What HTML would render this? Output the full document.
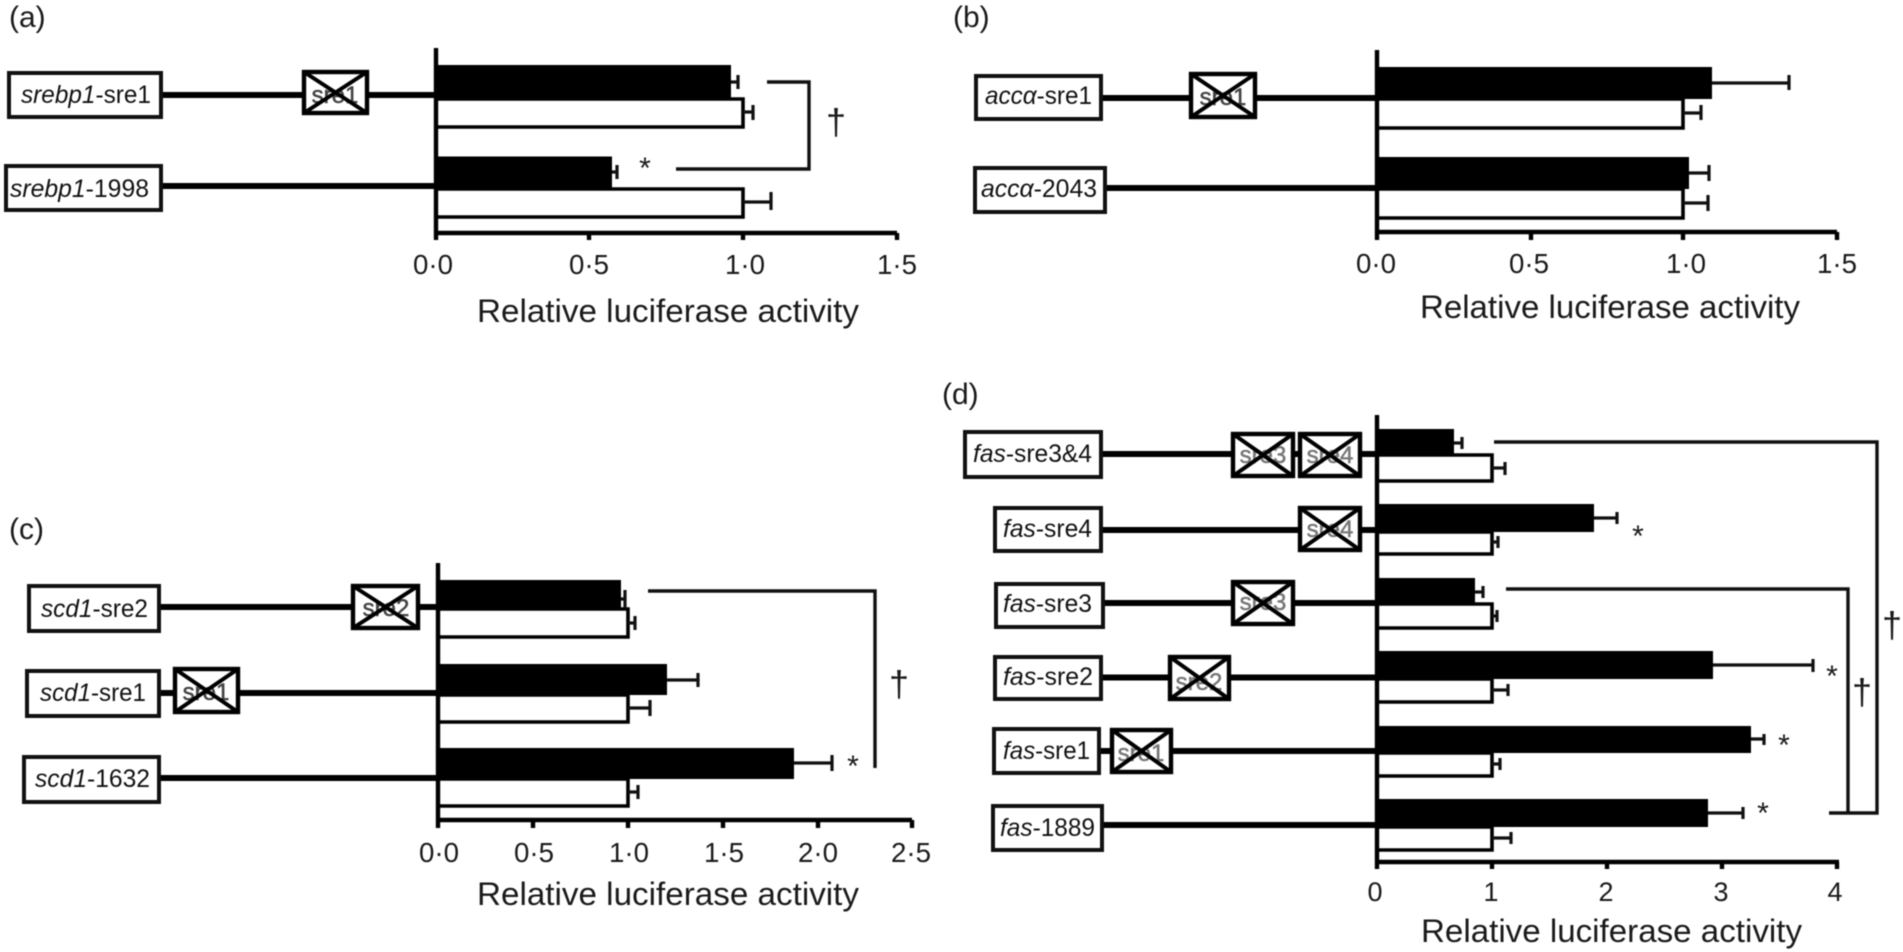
<!DOCTYPE html>
<html><head><meta charset="utf-8"><style>
html,body{margin:0;padding:0;background:#fff;width:1903px;height:952px;overflow:hidden}
svg{display:block;filter:blur(.6px)}
text{font-family:"Liberation Sans",sans-serif;fill:#1a1a1a}
.p{font-size:30px}.t{font-size:28px;text-anchor:middle}.td{font-size:27px;text-anchor:middle}.h{font-size:32px}
.l{font-size:25px;fill:#111}.l tspan{font-style:italic}
.m{font-size:30px;text-anchor:middle}.d{font-size:36px;text-anchor:middle}
.s{font-size:24px;fill:#444;text-anchor:middle;stroke:#444;stroke-width:.5}.sd{font-size:24px;fill:#777;text-anchor:middle;stroke:#777;stroke-width:.5}
.a{fill:none;stroke:#000;stroke-width:4.4}
.g{stroke:#000;stroke-width:6;fill:none}
.w{fill:#fff;stroke:#000;stroke-width:3.6}
.e{fill:none;stroke:#111;stroke-width:3.2}
.b{fill:none;stroke:#111;stroke-width:3.4}
.lb{fill:#fff;stroke:#111;stroke-width:4}
.x{fill:none;stroke:#000;stroke-width:4}
.xb{fill:#fff;stroke:#000;stroke-width:4.4}
</style></head><body>
<svg width="1903" height="952" viewBox="0 0 1903 952" xmlns="http://www.w3.org/2000/svg">
<rect width="1903" height="952" fill="#fff"/>

<!-- Panel a -->
<text class="p" x="9" y="27">(a)</text>
<path class="g" d="M161 95H436M161 186H436"/>
<rect class="lb" x="9" y="73" width="152" height="44"/>
<rect class="lb" x="6" y="166" width="155" height="44"/>
<text class="l" x="21" y="103" textLength="130" lengthAdjust="spacingAndGlyphs"><tspan>srebp1</tspan>-sre1</text>
<text class="l" x="10" y="197" textLength="139" lengthAdjust="spacingAndGlyphs"><tspan>srebp1</tspan>-1998</text>
<rect class="xb" x="304" y="72" width="63" height="41"/>
<text class="s" x="335" y="103">sre1</text>
<path class="x" d="M304 72L367 113M367 72L304 113"/>
<path class="w" d="M436 99H743V127H436M436 189H743V217H436"/>
<rect x="436" y="65" width="295" height="34"/>
<rect x="436" y="156.500" width="176" height="32.500"/>
<path class="e" d="M731 82H738M738 75V89M743 112H753M753 105V120M612 172H617M617 165V179M743 202H771M771 192V210"/>
<path class="a" d="M436 48V240M436 233H897M589 233V240M743 233V240M897 233V240"/>
<path class="b" d="M767 82H809V169H676"/>
<text class="m" x="645" y="178">*</text>
<text class="d" x="836" y="134">†</text>
<text class="t" x="433" y="274" textLength="40" lengthAdjust="spacingAndGlyphs">0·0</text><text class="t" x="589" y="274" textLength="40" lengthAdjust="spacingAndGlyphs">0·5</text><text class="t" x="745" y="274" textLength="40" lengthAdjust="spacingAndGlyphs">1·0</text><text class="t" x="897" y="274" textLength="40" lengthAdjust="spacingAndGlyphs">1·5</text>
<text class="h" x="477" y="322" textLength="382" lengthAdjust="spacingAndGlyphs">Relative luciferase activity</text>

<!-- Panel b -->
<text class="p" x="953" y="27">(b)</text>
<path class="g" d="M1101 98H1377M1105 188H1377"/>
<rect class="lb" x="976" y="76" width="125" height="43"/>
<rect class="lb" x="975" y="168" width="130" height="44"/>
<text class="l" x="985" y="104" textLength="107" lengthAdjust="spacingAndGlyphs"><tspan>accα</tspan>-sre1</text>
<text class="l" x="981" y="197" textLength="116" lengthAdjust="spacingAndGlyphs"><tspan>accα</tspan>-2043</text>
<rect class="xb" x="1191" y="74" width="64" height="43"/>
<text class="s" x="1223" y="105">sre1</text>
<path class="x" d="M1191 74L1255 117M1255 74L1191 117"/>
<path class="w" d="M1377 99H1683V128H1377M1377 189H1683V218H1377"/>
<rect x="1377" y="67" width="335" height="32"/>
<rect x="1377" y="157" width="312" height="32"/>
<path class="e" d="M1712 83H1789M1789 75V90M1683 113H1701M1701 105V120M1689 173H1709M1709 165V181M1683 203H1708M1708 195V211"/>
<path class="a" d="M1377 50V240M1377 232H1837M1531 232V240M1683 232V240M1837 232V240"/>
<text class="t" x="1376" y="273" textLength="40" lengthAdjust="spacingAndGlyphs">0·0</text><text class="t" x="1529" y="273" textLength="40" lengthAdjust="spacingAndGlyphs">0·5</text><text class="t" x="1686" y="273" textLength="40" lengthAdjust="spacingAndGlyphs">1·0</text><text class="t" x="1837" y="273" textLength="40" lengthAdjust="spacingAndGlyphs">1·5</text>
<text class="h" x="1420" y="318" textLength="380" lengthAdjust="spacingAndGlyphs">Relative luciferase activity</text>

<!-- Panel c -->
<text class="p" x="9" y="539">(c)</text>
<path class="g" d="M159 607H438M159 693H438M159 778H438"/>
<rect class="lb" x="29" y="586" width="130" height="45"/>
<rect class="lb" x="27" y="671" width="132" height="45"/>
<rect class="lb" x="24" y="757" width="135" height="45"/>
<text class="l" x="41" y="617" textLength="107" lengthAdjust="spacingAndGlyphs"><tspan>scd1</tspan>-sre2</text>
<text class="l" x="40" y="701" textLength="106" lengthAdjust="spacingAndGlyphs"><tspan>scd1</tspan>-sre1</text>
<text class="l" x="35" y="787" textLength="115" lengthAdjust="spacingAndGlyphs"><tspan>scd1</tspan>-1632</text>
<rect class="xb" x="353" y="586" width="65" height="42"/>
<text class="s" x="386" y="616">sre2</text>
<path class="x" d="M353 586L418 628M418 586L353 628"/>
<rect class="xb" x="175" y="669" width="63" height="43"/>
<text class="s" x="206" y="700">sre1</text>
<path class="x" d="M175 669L238 712M238 669L175 712"/>
<path class="w" d="M438 609H628V637H438M438 695H628V722H438M438 779H628V806H438"/>
<rect x="438" y="580" width="183" height="29"/>
<rect x="438" y="664" width="229" height="31"/>
<rect x="438" y="748" width="356" height="31"/>
<path class="e" d="M621 599H625M625 590V608M628 623H635M635 616V630M667 680H698M698 673V687M628 708H650M650 700V716M794 763H832M832 755V771M628 792H638M638 785V799"/>
<path class="a" d="M438 563V828M438 820H912M533 820V828M628 820V828M723 820V828M818 820V828M912 820V828"/>
<path class="b" d="M648 591H875V768"/>
<text class="m" x="853" y="776">*</text>
<text class="d" x="899" y="696">†</text>
<text class="t" x="439" y="862" textLength="40" lengthAdjust="spacingAndGlyphs">0·0</text><text class="t" x="534" y="862" textLength="40" lengthAdjust="spacingAndGlyphs">0·5</text><text class="t" x="629" y="862" textLength="40" lengthAdjust="spacingAndGlyphs">1·0</text><text class="t" x="724" y="862" textLength="40" lengthAdjust="spacingAndGlyphs">1·5</text><text class="t" x="818" y="862" textLength="40" lengthAdjust="spacingAndGlyphs">2·0</text><text class="t" x="911" y="862" textLength="40" lengthAdjust="spacingAndGlyphs">2·5</text>
<text class="h" x="477" y="905" textLength="382" lengthAdjust="spacingAndGlyphs">Relative luciferase activity</text>

<!-- Panel d -->
<text class="p" x="942" y="404">(d)</text>
<path class="g" d="M1101 454H1377M1101 530H1377M1103 603H1377M1101 677.500H1377M1099 751H1377M1102 825H1377"/>
<rect class="lb" x="965" y="432" width="136" height="45"/>
<rect class="lb" x="995" y="508" width="106" height="43"/>
<rect class="lb" x="996" y="584" width="107" height="43"/>
<rect class="lb" x="995" y="657" width="106" height="42"/>
<rect class="lb" x="994" y="729" width="105" height="44"/>
<rect class="lb" x="993" y="806" width="109" height="44"/>
<text class="l" x="973" y="462" textLength="119" lengthAdjust="spacingAndGlyphs"><tspan>fas</tspan>-sre3&amp;4</text>
<text class="l" x="1003" y="537" textLength="89" lengthAdjust="spacingAndGlyphs"><tspan>fas</tspan>-sre4</text>
<text class="l" x="1003" y="612" textLength="89" lengthAdjust="spacingAndGlyphs"><tspan>fas</tspan>-sre3</text>
<text class="l" x="1003" y="685" textLength="90" lengthAdjust="spacingAndGlyphs"><tspan>fas</tspan>-sre2</text>
<text class="l" x="1003" y="759" textLength="87" lengthAdjust="spacingAndGlyphs"><tspan>fas</tspan>-sre1</text>
<text class="l" x="1000" y="836" textLength="95" lengthAdjust="spacingAndGlyphs"><tspan>fas</tspan>-1889</text>
<rect class="xb" x="1233" y="434" width="60" height="42"/><text class="sd" x="1263" y="463">sre3</text><path class="x" d="M1233 434L1293 476M1293 434L1233 476"/>
<rect class="xb" x="1300" y="434" width="60" height="42"/><text class="sd" x="1330" y="463">sre4</text><path class="x" d="M1300 434L1360 476M1360 434L1300 476"/>
<rect class="xb" x="1300" y="508" width="60" height="42"/><text class="sd" x="1330" y="537">sre4</text><path class="x" d="M1300 508L1360 550M1360 508L1300 550"/>
<rect class="xb" x="1233" y="582" width="60" height="42"/><text class="sd" x="1263" y="610">sre3</text><path class="x" d="M1233 582L1293 624M1293 582L1233 624"/>
<rect class="xb" x="1170" y="657" width="59" height="42"/><text class="sd" x="1199" y="690">sre2</text><path class="x" d="M1170 657L1229 699M1229 657L1170 699"/>
<rect class="xb" x="1112" y="730" width="59" height="42"/><text class="sd" x="1141" y="761">sre1</text><path class="x" d="M1112 730L1171 772M1171 730L1112 772"/>
<path class="w" d="M1377 455H1492V481H1377M1377 532H1492V554H1377M1377 604H1492V628H1377M1377 679H1492V702H1377M1377 753H1492V776H1377M1377 827H1492V850H1377"/>
<rect x="1377" y="429" width="77" height="26"/>
<rect x="1377" y="504" width="217" height="28"/>
<rect x="1377" y="578" width="98" height="26"/>
<rect x="1377" y="651" width="336" height="28"/>
<rect x="1377" y="726" width="374" height="27"/>
<rect x="1377" y="799" width="331" height="28"/>
<path class="e" d="M1454 443H1462M1462 437V449M1492 468H1505M1505 462V475M1594 518H1617M1617 512V524M1492 542H1498M1498 536V548M1475 592H1483M1483 586V598M1492 616H1497M1497 610V622M1713 665H1813M1813 659V672M1492 690H1508M1508 684V696M1751 739H1764M1764 734V745M1492 764H1500M1500 758V770M1708 813H1743M1743 807V819M1492 838H1511M1511 832V844"/>
<path class="a" d="M1377 415V869M1377 862H1839M1492 862V869M1607 862V869M1722 862V869M1837 862V869"/>
<path class="b" d="M1494 442H1877V813H1829M1506 589H1848V813"/>
<text class="m" x="1638" y="546">*</text>
<text class="m" x="1832" y="686">*</text>
<text class="m" x="1784" y="755">*</text>
<text class="m" x="1763" y="823">*</text>
<text class="d" x="1892" y="637">†</text>
<text class="d" x="1862" y="704">†</text>
<text class="td" x="1375" y="901">0</text><text class="td" x="1491" y="901">1</text><text class="td" x="1606" y="901">2</text><text class="td" x="1721" y="901">3</text><text class="td" x="1835" y="901">4</text>
<text class="h" x="1421" y="942" textLength="381" lengthAdjust="spacingAndGlyphs">Relative luciferase activity</text>
</svg>
</body></html>
